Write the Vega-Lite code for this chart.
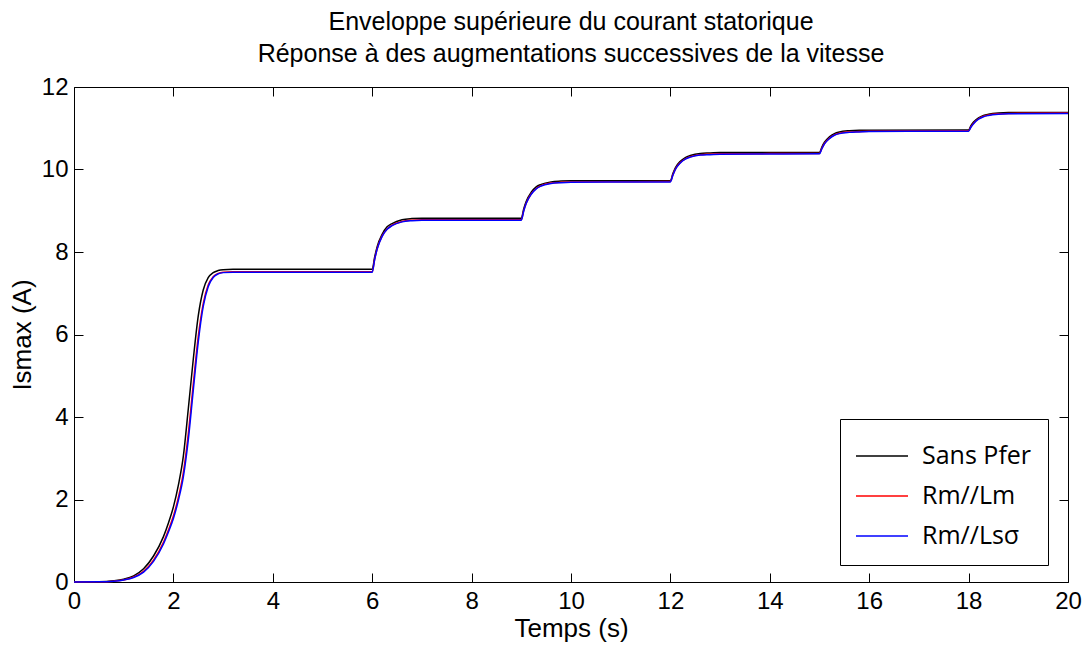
{
  "$schema": "https://vega.github.io/schema/vega-lite/v6.json",
  "autosize": "none",
  "width": 994,
  "height": 495,
  "padding": {"left": 74, "top": 87, "right": 20, "bottom": 66},
  "background": "white",
  "title": {
    "text": ["Enveloppe supérieure du courant statorique", "Réponse à des augmentations successives de la vitesse"],
    "font": "Liberation Sans",
    "fontSize": 25,
    "fontWeight": "normal",
    "color": "black",
    "lineHeight": 32,
    "anchor": "middle",
    "offset": 8
  },
  "data": {"values": [
    {"t":0,"a":0,"b":0,"c":0},
    {"t":0.5,"a":0.005,"b":0.004,"c":0.004},
    {"t":0.8,"a":0.03,"b":0.02,"c":0.02},
    {"t":1.0,"a":0.07,"b":0.05,"c":0.05},
    {"t":1.2,"a":0.15,"b":0.12,"c":0.11},
    {"t":1.4,"a":0.32,"b":0.26,"c":0.24},
    {"t":1.6,"a":0.63,"b":0.53,"c":0.5},
    {"t":1.8,"a":1.1,"b":0.96,"c":0.92},
    {"t":1.9,"a":1.43,"b":1.26,"c":1.21},
    {"t":2.0,"a":1.82,"b":1.6,"c":1.54},
    {"t":2.1,"a":2.35,"b":2.05,"c":1.98},
    {"t":2.2,"a":3.05,"b":2.65,"c":2.55},
    {"t":2.3,"a":4.2,"b":3.6,"c":3.45},
    {"t":2.4,"a":5.4,"b":4.8,"c":4.65},
    {"t":2.5,"a":6.45,"b":5.95,"c":5.82},
    {"t":2.6,"a":7.08,"b":6.75,"c":6.68},
    {"t":2.7,"a":7.38,"b":7.2,"c":7.16},
    {"t":2.8,"a":7.5,"b":7.4,"c":7.38},
    {"t":2.9,"a":7.55,"b":7.48,"c":7.47},
    {"t":3.0,"a":7.57,"b":7.51,"c":7.5},
    {"t":3.2,"a":7.58,"b":7.52,"c":7.51},
    {"t":4.5,"a":7.58,"b":7.52,"c":7.51},
    {"t":6.0,"a":7.58,"b":7.52,"c":7.51},
    {"t":6.05,"a":7.88,"b":7.83,"c":7.82},
    {"t":6.1,"a":8.13,"b":8.08,"c":8.07},
    {"t":6.2,"a":8.43,"b":8.39,"c":8.38},
    {"t":6.3,"a":8.61,"b":8.56,"c":8.55},
    {"t":6.4,"a":8.69,"b":8.65,"c":8.64},
    {"t":6.6,"a":8.78,"b":8.74,"c":8.73},
    {"t":6.8,"a":8.81,"b":8.77,"c":8.76},
    {"t":7.0,"a":8.82,"b":8.78,"c":8.77},
    {"t":9.0,"a":8.82,"b":8.78,"c":8.77},
    {"t":9.05,"a":9.05,"b":9.01,"c":9.0},
    {"t":9.1,"a":9.23,"b":9.19,"c":9.18},
    {"t":9.2,"a":9.45,"b":9.41,"c":9.4},
    {"t":9.3,"a":9.58,"b":9.54,"c":9.53},
    {"t":9.4,"a":9.64,"b":9.61,"c":9.6},
    {"t":9.6,"a":9.7,"b":9.67,"c":9.66},
    {"t":9.8,"a":9.72,"b":9.69,"c":9.68},
    {"t":10.0,"a":9.73,"b":9.7,"c":9.69},
    {"t":12.0,"a":9.73,"b":9.71,"c":9.7},
    {"t":12.05,"a":9.9,"b":9.87,"c":9.86},
    {"t":12.1,"a":10.04,"b":10.01,"c":10.0},
    {"t":12.2,"a":10.2,"b":10.17,"c":10.16},
    {"t":12.3,"a":10.29,"b":10.26,"c":10.25},
    {"t":12.4,"a":10.34,"b":10.31,"c":10.3},
    {"t":12.6,"a":10.39,"b":10.36,"c":10.35},
    {"t":12.8,"a":10.4,"b":10.37,"c":10.36},
    {"t":13.0,"a":10.41,"b":10.38,"c":10.37},
    {"t":15.0,"a":10.41,"b":10.39,"c":10.38},
    {"t":15.05,"a":10.55,"b":10.52,"c":10.51},
    {"t":15.1,"a":10.66,"b":10.63,"c":10.62},
    {"t":15.2,"a":10.79,"b":10.76,"c":10.75},
    {"t":15.3,"a":10.87,"b":10.84,"c":10.83},
    {"t":15.4,"a":10.91,"b":10.88,"c":10.87},
    {"t":15.6,"a":10.94,"b":10.91,"c":10.9},
    {"t":15.8,"a":10.95,"b":10.92,"c":10.91},
    {"t":16.0,"a":10.95,"b":10.93,"c":10.92},
    {"t":18.0,"a":10.96,"b":10.94,"c":10.93},
    {"t":18.05,"a":11.07,"b":11.04,"c":11.03},
    {"t":18.1,"a":11.15,"b":11.12,"c":11.11},
    {"t":18.2,"a":11.25,"b":11.23,"c":11.22},
    {"t":18.3,"a":11.31,"b":11.29,"c":11.28},
    {"t":18.4,"a":11.34,"b":11.32,"c":11.31},
    {"t":18.6,"a":11.37,"b":11.35,"c":11.34},
    {"t":18.8,"a":11.38,"b":11.36,"c":11.35},
    {"t":20.0,"a":11.38,"b":11.37,"c":11.36}
  ]},
  "transform": [{"fold": ["a", "b", "c"], "as": ["key", "v"]}],
  "layer": [
    {
      "mark": {"type": "line", "strokeWidth": 1.5, "interpolate": "monotone"},
      "encoding": {
        "x": {"field": "t", "type": "quantitative",
              "scale": {"domain": [0, 20], "nice": false, "zero": false},
              "axis": {"values": [0,2,4,6,8,10,12,14,16,18,20], "title": "Temps (s)", "orient": "bottom", "labelPadding": 16, "titlePadding": 2}},
        "y": {"field": "v", "type": "quantitative",
              "scale": {"domain": [0, 12], "nice": false},
              "axis": {"values": [0,2,4,6,8,10,12], "title": "Ismax (A)", "orient": "left", "labelPadding": 15, "titlePadding": 6}},
        "color": {"field": "key", "type": "nominal",
                  "scale": {"domain": ["a", "b", "c"], "range": ["#000000", "#ff0000", "#0000ff"]},
                  "legend": {
                    "title": null,
                    "orient": "none",
                    "legendX": 766,
                    "legendY": 332,
                    "labelExpr": "datum.value == 'a' ? 'Sans Pfer' : (datum.value == 'b' ? 'Rm//Lm' : 'Rm//Lsσ')",
                    "symbolType": "M-1.05,0H1.55",
                    "symbolSize": 1600,
                    "symbolStrokeWidth": 1.5,
                    "labelFont": "Open Sans",
                    "labelFontSize": 25,
                    "labelColor": "black",
                    "labelOffset": 24,
                    "rowPadding": 6,
                    "padding": 16,
                    "strokeColor": "black",
                    "fillColor": "white"
                  }}
      }
    },
    {
      "mark": {"type": "line", "opacity": 0},
      "encoding": {
        "x": {"field": "t", "type": "quantitative",
              "axis": {"values": [0,2,4,6,8,10,12,14,16,18,20], "title": null, "labels": false, "orient": "top"}},
        "y": {"field": "v", "type": "quantitative",
              "axis": {"values": [0,2,4,6,8,10,12], "title": null, "labels": false, "orient": "right"}},
        "detail": {"field": "key"}
      }
    }
  ],
  "resolve": {"axis": {"x": "independent", "y": "independent"}},
  "config": {
    "view": {"stroke": "black", "strokeWidth": 1},
    "axis": {
      "grid": false,
      "domain": false,
      "tickColor": "black",
      "tickSize": -9,
      "tickWidth": 1,
      "labelFont": "Liberation Sans",
      "labelFontSize": 24,
      "labelColor": "black",
      "titleFont": "Liberation Sans",
      "titleFontSize": 26,
      "titleFontWeight": "normal",
      "titleColor": "black"
    },
    "axisX": {"labelFlush": false}
  }
}
